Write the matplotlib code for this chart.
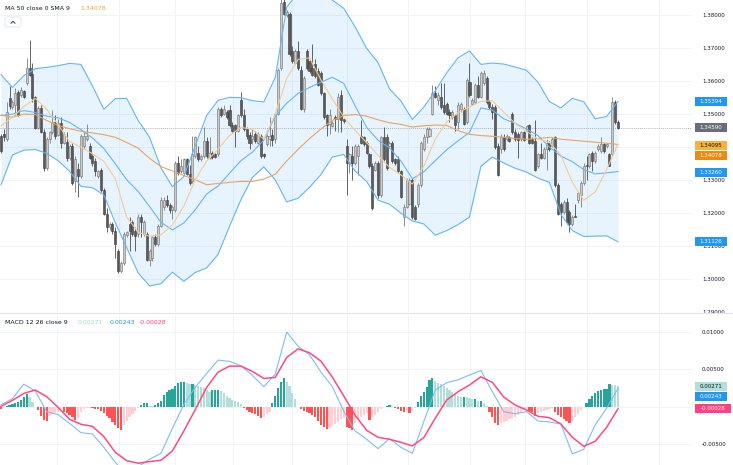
import numpy as np
import matplotlib
matplotlib.use("Agg")
import matplotlib.pyplot as plt
from matplotlib.patches import Rectangle, FancyBboxPatch
from matplotlib.lines import Line2D

# ---------------- data ----------------
opens = [
 1.3435, 1.3440, 1.3424, 1.3548, 1.3522, 1.3527, 1.3568, 1.3558, 1.3571, 1.3594,
 1.3640, 1.3622, 1.3553, 1.3457, 1.3519, 1.3445, 1.3337, 1.3424, 1.3445, 1.3476,
 1.3437, 1.3474, 1.3414, 1.3416, 1.3368, 1.3402, 1.3296, 1.3334, 1.3311, 1.3404,
 1.3424, 1.3404, 1.3373, 1.3358, 1.3311, 1.3332, 1.3270, 1.3198, 1.3157, 1.3167,
 1.3147, 1.3085, 1.3023, 1.3049, 1.3134, 1.3167, 1.3172, 1.3147, 1.3136, 1.3188,
 1.3136, 1.3136, 1.3059, 1.3064, 1.3126, 1.3106, 1.3162, 1.3219, 1.3239, 1.3224,
 1.3208, 1.3208, 1.3352, 1.3327, 1.3322, 1.3363, 1.3320, 1.3296, 1.3373, 1.3383,
 1.3363, 1.3373, 1.3419, 1.3368, 1.3381, 1.3378, 1.3378, 1.3517, 1.3502, 1.3507,
 1.3512, 1.3468, 1.3466, 1.3450, 1.3543, 1.3496, 1.3455, 1.3437, 1.3424, 1.3440,
 1.3414, 1.3435, 1.3378, 1.3410, 1.3424, 1.3437, 1.3424, 1.3502, 1.3640, 1.3841,
 1.3800, 1.3805, 1.3692, 1.3656, 1.3692, 1.3635, 1.3517, 1.3692, 1.3661, 1.3640,
 1.3651, 1.3630, 1.3625, 1.3563, 1.3496, 1.3471, 1.3464, 1.3491, 1.3486, 1.3558,
 1.3484, 1.3404, 1.3352, 1.3373, 1.3352, 1.3373, 1.3435, 1.3430, 1.3414, 1.3378,
 1.3342, 1.3332, 1.3352, 1.3255, 1.3430, 1.3430, 1.3404, 1.3414, 1.3363, 1.3363,
 1.3327, 1.3188, 1.3219, 1.3229, 1.3301, 1.3219, 1.3229, 1.3286, 1.3394, 1.3430,
 1.3435, 1.3502, 1.3563, 1.3543, 1.3553, 1.3527, 1.3532, 1.3507, 1.3491, 1.3496,
 1.3476, 1.3517, 1.3517, 1.3476, 1.3599, 1.3532, 1.3538, 1.3589, 1.3553, 1.3594,
 1.3610, 1.3538, 1.3522, 1.3522, 1.3404, 1.3394, 1.3430, 1.3424, 1.3430, 1.3502,
 1.3445, 1.3440, 1.3424, 1.3445, 1.3450, 1.3466, 1.3424, 1.3419, 1.3342, 1.3378,
 1.3368, 1.3394, 1.3414, 1.3404, 1.3430, 1.3286, 1.3229, 1.3203, 1.3234, 1.3203,
 1.3167, 1.3192, 1.3239, 1.3255, 1.3291, 1.3347, 1.3342, 1.3383, 1.3358, 1.3394,
 1.3388, 1.3409, 1.3402, 1.3378, 1.3378, 1.3538, 1.3476]
highs = [
 1.3440, 1.3455, 1.3538, 1.3584, 1.3543, 1.3579, 1.3574, 1.3581, 1.3574, 1.3671,
 1.3725, 1.3656, 1.3555, 1.3525, 1.3527, 1.3455, 1.3430, 1.3450, 1.3512, 1.3496,
 1.3486, 1.3491, 1.3445, 1.3445, 1.3410, 1.3414, 1.3373, 1.3352, 1.3440, 1.3450,
 1.3471, 1.3414, 1.3378, 1.3368, 1.3332, 1.3337, 1.3275, 1.3214, 1.3172, 1.3172,
 1.3157, 1.3090, 1.3054, 1.3142, 1.3147, 1.3188, 1.3178, 1.3157, 1.3198, 1.3198,
 1.3178, 1.3142, 1.3090, 1.3131, 1.3136, 1.3167, 1.3250, 1.3250, 1.3255, 1.3230,
 1.3224, 1.3358, 1.3373, 1.3363, 1.3368, 1.3368, 1.3347, 1.3435, 1.3435, 1.3404,
 1.3380, 1.3460, 1.3430, 1.3430, 1.3388, 1.3383, 1.3522, 1.3522, 1.3527, 1.3512,
 1.3527, 1.3476, 1.3471, 1.3502, 1.3568, 1.3517, 1.3460, 1.3445, 1.3455, 1.3450,
 1.3445, 1.3440, 1.3383, 1.3440, 1.3491, 1.3455, 1.3507, 1.3640, 1.3857, 1.3860,
 1.3815, 1.3810, 1.3707, 1.3697, 1.3723, 1.3646, 1.3615, 1.3697, 1.3666, 1.3713,
 1.3666, 1.3640, 1.3630, 1.3568, 1.3502, 1.3517, 1.3478, 1.3496, 1.3563, 1.3574,
 1.3486, 1.3424, 1.3383, 1.3404, 1.3409, 1.3409, 1.3481, 1.3435, 1.3419, 1.3383,
 1.3352, 1.3358, 1.3358, 1.3435, 1.3460, 1.3440, 1.3419, 1.3419, 1.3368, 1.3373,
 1.3332, 1.3229, 1.3306, 1.3306, 1.3306, 1.3224, 1.3291, 1.3419, 1.3440, 1.3460,
 1.3460, 1.3589, 1.3584, 1.3568, 1.3594, 1.3594, 1.3538, 1.3517, 1.3512, 1.3502,
 1.3538, 1.3538, 1.3522, 1.3610, 1.3656, 1.3548, 1.3594, 1.3615, 1.3630, 1.3635,
 1.3615, 1.3543, 1.3532, 1.3527, 1.3414, 1.3440, 1.3440, 1.3440, 1.3435, 1.3507,
 1.3455, 1.3445, 1.3450, 1.3450, 1.3466, 1.3471, 1.3430, 1.3481, 1.3383, 1.3414,
 1.3399, 1.3424, 1.3419, 1.3430, 1.3435, 1.3291, 1.3234, 1.3239, 1.3245, 1.3208,
 1.3193, 1.3229, 1.3265, 1.3296, 1.3352, 1.3373, 1.3383, 1.3388, 1.3388, 1.3409,
 1.3430, 1.3414, 1.3414, 1.3383, 1.3553, 1.3543, 1.3481]
lows = [
 1.3383, 1.3419, 1.3419, 1.3517, 1.3517, 1.3496, 1.3494, 1.3553, 1.3548, 1.3589,
 1.3615, 1.3538, 1.3455, 1.3455, 1.3443, 1.3327, 1.3332, 1.3414, 1.3440, 1.3424,
 1.3433, 1.3396, 1.3409, 1.3358, 1.3360, 1.3286, 1.3265, 1.3250, 1.3306, 1.3394,
 1.3419, 1.3363, 1.3342, 1.3311, 1.3306, 1.3265, 1.3193, 1.3142, 1.3150, 1.3136,
 1.3064, 1.3018, 1.3018, 1.3044, 1.3126, 1.3085, 1.3131, 1.3085, 1.3126, 1.3126,
 1.3131, 1.3054, 1.3039, 1.3054, 1.3100, 1.3100, 1.3159, 1.3208, 1.3219, 1.3200,
 1.3183, 1.3203, 1.3316, 1.3322, 1.3316, 1.3315, 1.3286, 1.3291, 1.3368, 1.3358,
 1.3358, 1.3368, 1.3368, 1.3363, 1.3365, 1.3367, 1.3373, 1.3491, 1.3496, 1.3486,
 1.3460, 1.3445, 1.3399, 1.3445, 1.3491, 1.3450, 1.3424, 1.3394, 1.3409, 1.3414,
 1.3409, 1.3368, 1.3368, 1.3404, 1.3404, 1.3404, 1.3414, 1.3496, 1.3635, 1.3800,
 1.3795, 1.3677, 1.3656, 1.3651, 1.3635, 1.3512, 1.3507, 1.3635, 1.3625, 1.3615,
 1.3610, 1.3584, 1.3558, 1.3486, 1.3435, 1.3440, 1.3460, 1.3450, 1.3445, 1.3445,
 1.3474, 1.3255, 1.3322, 1.3301, 1.3347, 1.3316, 1.3409, 1.3404, 1.3378, 1.3337,
 1.3209, 1.3327, 1.3245, 1.3250, 1.3358, 1.3332, 1.3399, 1.3352, 1.3347, 1.3322,
 1.3245, 1.3162, 1.3214, 1.3224, 1.3183, 1.3180, 1.3219, 1.3280, 1.3388, 1.3414,
 1.3430, 1.3496, 1.3548, 1.3527, 1.3517, 1.3502, 1.3496, 1.3476, 1.3486, 1.3450,
 1.3455, 1.3507, 1.3466, 1.3471, 1.3553, 1.3527, 1.3532, 1.3548, 1.3548, 1.3589,
 1.3532, 1.3517, 1.3486, 1.3394, 1.3311, 1.3383, 1.3388, 1.3419, 1.3416, 1.3440,
 1.3419, 1.3368, 1.3419, 1.3419, 1.3445, 1.3409, 1.3409, 1.3327, 1.3337, 1.3363,
 1.3363, 1.3332, 1.3388, 1.3399, 1.3280, 1.3193, 1.3162, 1.3198, 1.3167, 1.3142,
 1.3162, 1.3188, 1.3230, 1.3219, 1.3286, 1.3301, 1.3337, 1.3327, 1.3352, 1.3388,
 1.3383, 1.3383, 1.3398, 1.3342, 1.3373, 1.3471, 1.3455]
closes = [
 1.3388, 1.3430, 1.3507, 1.3525, 1.3538, 1.3563, 1.3496, 1.3574, 1.3553, 1.3640,
 1.3620, 1.3548, 1.3457, 1.3519, 1.3445, 1.3337, 1.3424, 1.3445, 1.3476, 1.3435,
 1.3474, 1.3414, 1.3440, 1.3368, 1.3402, 1.3291, 1.3363, 1.3313, 1.3435, 1.3435,
 1.3435, 1.3368, 1.3352, 1.3327, 1.3327, 1.3270, 1.3198, 1.3157, 1.3167, 1.3147,
 1.3106, 1.3023, 1.3049, 1.3136, 1.3142, 1.3147, 1.3136, 1.3131, 1.3188, 1.3172,
 1.3172, 1.3059, 1.3085, 1.3126, 1.3106, 1.3162, 1.3239, 1.3239, 1.3224, 1.3208,
 1.3217, 1.3352, 1.3322, 1.3342, 1.3363, 1.3320, 1.3291, 1.3378, 1.3430, 1.3363,
 1.3373, 1.3419, 1.3373, 1.3383, 1.3371, 1.3371, 1.3517, 1.3496, 1.3517, 1.3491,
 1.3466, 1.3450, 1.3450, 1.3496, 1.3496, 1.3455, 1.3435, 1.3414, 1.3435, 1.3419,
 1.3440, 1.3373, 1.3373, 1.3435, 1.3435, 1.3422, 1.3502, 1.3635, 1.3836, 1.3805,
 1.3810, 1.3682, 1.3661, 1.3692, 1.3640, 1.3517, 1.3610, 1.3640, 1.3630, 1.3620,
 1.3615, 1.3589, 1.3563, 1.3491, 1.3466, 1.3496, 1.3474, 1.3486, 1.3553, 1.3481,
 1.3478, 1.3352, 1.3378, 1.3352, 1.3404, 1.3404, 1.3414, 1.3409, 1.3383, 1.3342,
 1.3214, 1.3352, 1.3255, 1.3430, 1.3363, 1.3337, 1.3414, 1.3358, 1.3352, 1.3327,
 1.3250, 1.3219, 1.3301, 1.3301, 1.3188, 1.3183, 1.3286, 1.3414, 1.3430, 1.3455,
 1.3455, 1.3563, 1.3553, 1.3558, 1.3522, 1.3507, 1.3502, 1.3496, 1.3507, 1.3466,
 1.3527, 1.3532, 1.3471, 1.3604, 1.3558, 1.3543, 1.3589, 1.3553, 1.3625, 1.3625,
 1.3538, 1.3522, 1.3507, 1.3399, 1.3316, 1.3430, 1.3394, 1.3435, 1.3419, 1.3445,
 1.3424, 1.3422, 1.3445, 1.3422, 1.3463, 1.3414, 1.3414, 1.3332, 1.3378, 1.3368,
 1.3394, 1.3414, 1.3394, 1.3424, 1.3286, 1.3198, 1.3203, 1.3234, 1.3172, 1.3167,
 1.3188, 1.3189, 1.3260, 1.3291, 1.3342, 1.3343, 1.3378, 1.3358, 1.3383, 1.3404,
 1.3409, 1.3388, 1.3409, 1.3342, 1.3538, 1.3476, 1.3459]

# overlay indicators, read every 4th bar
line_idx = list(range(0, 217, 4))
bb_upper = [1.3620, 1.3581, 1.3617, 1.3638, 1.3642, 1.3647, 1.3654, 1.3651, 1.3586, 1.3515,
            1.3547, 1.3548, 1.3481, 1.3430, 1.3337, 1.3280, 1.3311, 1.3404, 1.3496, 1.3542,
            1.3551, 1.3550, 1.3541, 1.3537, 1.3611, 1.3824, 1.3869, 1.3893, 1.3877, 1.3846,
            1.3821, 1.3764, 1.3700, 1.3656, 1.3577, 1.3540, 1.3484, 1.3521, 1.3571, 1.3625,
            1.3671, 1.3692, 1.3651, 1.3655, 1.3652, 1.3643, 1.3633, 1.3597, 1.3538, 1.3519,
            1.3548, 1.3538, 1.3486, 1.3493, 1.3539]
bb_mid = [1.3496, 1.3500, 1.3511, 1.3505, 1.3494, 1.3489, 1.3475, 1.3453, 1.3428, 1.3396,
          1.3350, 1.3301, 1.3266, 1.3220, 1.3172, 1.3149, 1.3170, 1.3210, 1.3258, 1.3282,
          1.3321, 1.3359, 1.3385, 1.3421, 1.3494, 1.3533, 1.3563, 1.3581, 1.3597, 1.3612,
          1.3593, 1.3525, 1.3460, 1.3421, 1.3398, 1.3358, 1.3304, 1.3325, 1.3359, 1.3392,
          1.3419, 1.3445, 1.3519, 1.3512, 1.3486, 1.3472, 1.3455, 1.3435, 1.3400, 1.3373,
          1.3356, 1.3332, 1.3319, 1.3322, 1.3326]
bb_lower = [1.3286, 1.3376, 1.3391, 1.3393, 1.3381, 1.3359, 1.3327, 1.3281, 1.3277, 1.3255,
            1.3171, 1.3095, 1.3019, 1.2979, 1.2986, 1.3021, 1.2993, 1.3020, 1.3034, 1.3075,
            1.3160, 1.3241, 1.3308, 1.3340, 1.3301, 1.3234, 1.3245, 1.3278, 1.3317, 1.3370,
            1.3378, 1.3327, 1.3296, 1.3239, 1.3227, 1.3200, 1.3176, 1.3167, 1.3133, 1.3147,
            1.3165, 1.3188, 1.3342, 1.3370, 1.3352, 1.3336, 1.3324, 1.3306, 1.3293, 1.3196,
            1.3147, 1.3129, 1.3130, 1.3131, 1.3113]
ma50 = [1.3497, 1.3491, 1.3500, 1.3499, 1.3481, 1.3466, 1.3456, 1.3448, 1.3443, 1.3438,
        1.3430, 1.3414, 1.3397, 1.3366, 1.3341, 1.3328, 1.3314, 1.3301, 1.3286, 1.3290,
        1.3293, 1.3296, 1.3296, 1.3303, 1.3318, 1.3358, 1.3393, 1.3426, 1.3455, 1.3481,
        1.3496, 1.3499, 1.3494, 1.3483, 1.3474, 1.3469, 1.3461, 1.3465, 1.3467, 1.3466,
        1.3450, 1.3439, 1.3435, 1.3433, 1.3430, 1.3426, 1.3424, 1.3426, 1.3430, 1.3424,
        1.3421, 1.3418, 1.3415, 1.3412, 1.3408]
ma_fast = [1.3464, 1.3491, 1.3523, 1.3548, 1.3515, 1.3468, 1.3417, 1.3400, 1.3380, 1.3357,
           1.3304, 1.3188, 1.3142, 1.3130, 1.3134, 1.3164, 1.3221, 1.3301, 1.3358, 1.3394,
           1.3435, 1.3460, 1.3454, 1.3424, 1.3500, 1.3608, 1.3666, 1.3671, 1.3604, 1.3546,
           1.3491, 1.3450, 1.3414, 1.3375, 1.3339, 1.3316, 1.3288, 1.3342, 1.3424, 1.3476,
           1.3504, 1.3522, 1.3539, 1.3541, 1.3506, 1.3472, 1.3448, 1.3425, 1.3414, 1.3376,
           1.3293, 1.3239, 1.3264, 1.3332, 1.3410]

# MACD lines, read every 4th bar
macd_idx = list(range(0, 217, 4))
macd_line = [0.00027, 0.00107, 0.00303, 0.00210, -0.00067, -0.00107, -0.00223, -0.00348, -0.00366, -0.00544,
             -0.00745, -0.00915, -0.00803, -0.00705, -0.00625, -0.00290, 0.00031, 0.00259, 0.00446, 0.00625,
             0.00607, 0.00549, 0.00420, 0.00268, 0.00437, 0.01000, 0.00812, 0.00696, 0.00464, 0.00268,
             -0.00062, -0.00326, -0.00437, -0.00562, -0.00428, -0.00544, -0.00625, -0.00201, 0.00223, 0.00321,
             0.00361, 0.00424, 0.00486, 0.00201, -0.00067, -0.00094, -0.00067, -0.00192, -0.00205, -0.00232,
             -0.00633, -0.00571, -0.00245, -0.00022, 0.00243]
signal_line = [0.00004, 0.00085, 0.00178, 0.00223, 0.00134, -0.00009, -0.00169, -0.00236, -0.00263, -0.00401,
               -0.00611, -0.00723, -0.00758, -0.00736, -0.00718, -0.00593, -0.00326, -0.00040, 0.00259, 0.00464,
               0.00544, 0.00544, 0.00473, 0.00379, 0.00392, 0.00660, 0.00776, 0.00723, 0.00611, 0.00397,
               0.00143, -0.00116, -0.00317, -0.00410, -0.00437, -0.00477, -0.00526, -0.00415, -0.00156, 0.00089,
               0.00201, 0.00290, 0.00401, 0.00326, 0.00129, 0.00022, -0.00045, -0.00129, -0.00147, -0.00232,
               -0.00410, -0.00531, -0.00464, -0.00277, -0.00028]
# histogram, in units of 1e-5
hist_1e5 = [-31, -9, 13, 27, 36, 54, 67, 89, 125, 169,
            125, 62, 0, -45, -125, -178, -187, -125, -98, -89,
            -67, -45, -67, -89, -112, -134, -178, -156, -67, -36,
            -22, -13, -22, -31, -36, -58, -89, -125, -156, -201,
            -245, -290, -312, -245, -187, -143, -98, -54, -13, 22,
            45, 45, 13, 4, 22, 45, 80, 156, 201, 223,
            232, 277, 321, 335, 335, 312, 303, 303, 285, 277,
            268, 245, 223, 201, 223, 223, 223, 214, 178, 143,
            112, 89, 80, 58, 31, -22, -45, -67, -80, -98,
            -125, -156, -134, -98, -67, 45, 143, 245, 335, 379,
            335, 277, 178, 98, -9, -36, -54, -67, -89, -116,
            -134, -187, -245, -277, -303, -290, -259, -232, -201, -169,
            -156, -268, -290, -312, -223, -169, -134, -112, -89, -178,
            -143, -112, -67, -36, -9, 13, 22, 13, -13, -36,
            -54, -67, -45, -89, -45, -22, 67, 143, 201, 259,
            357, 379, 348, 321, 303, 277, 245, 223, 201, 169,
            143, 125, 134, 125, 112, 98, 107, 80, 80, 54,
            9, -67, -134, -214, -245, -223, -205, -187, -169, -152,
            -134, -112, -80, -45, -36, -54, -67, -125, -89, -67,
            -54, -40, -27, -22, -67, -112, -134, -161, -187, -223,
            -187, -143, -98, -45, -9, 45, 98, 143, 187, 214,
            223, 232, 236, 303, 294, 285, 271]

month_lines = [19.6, 41.3, 61.0, 81.2, 101.9, 121.1, 142.4, 164.2, 183.4, 205.1, 230.3]
price_ticks = [1.29, 1.30, 1.31, 1.32, 1.33, 1.34, 1.35, 1.36, 1.37, 1.38]
price_hidden = [1.34]          # label covered by the price badges
macd_ticks = [0.01, 0.005, 0.0, -0.005]
macd_hidden = [0.0]

ma50_last = 1.34078
fast_last = 1.34095
upper_last, mid_last, lower_last = 1.35394, 1.33260, 1.31126
hist_last, macd_last, signal_last = 0.00271, 0.00243, -0.00028

# ---------------- figure ----------------
W, H = 733, 465
plt.rcParams['font.family'] = ['DejaVu Sans']
fig = plt.figure(figsize=(W / 100, H / 100), dpi=100)
fig.patch.set_facecolor('white')

ax = fig.add_axes([0, 153 / H, 692 / W, 312 / H])
ax2 = fig.add_axes([0, 0, 692 / W, 151 / H])
GRID = '#F0F3FA'
TXT = '#131722'
for a in (ax, ax2):
    a.set_facecolor('white')
    for s in a.spines.values():
        s.set_visible(False)
    a.set_xlim(-0.35, 241.9)
    a.tick_params(axis='x', length=0, labelbottom=False)
    a.yaxis.tick_right()
    a.tick_params(axis='y', length=0, pad=7.2, labelsize=4, labelcolor=TXT)
    for m in month_lines:
        a.axvline(m, color=GRID, lw=0.7, zorder=0)

# main pane
ax.set_ylim(1.29083, 1.38463)
ax.set_yticks(price_ticks)
ax.set_yticklabels(['' if v in price_hidden else f'{v:.5f}' for v in price_ticks])
for v in price_ticks:
    ax.axhline(v, color=GRID, lw=0.7, zorder=0)

ax.fill_between(line_idx, bb_lower, bb_upper, color='#2196F3', alpha=0.1, lw=0, zorder=1)

for i in range(len(closes)):
    o, h, l, c = opens[i], highs[i], lows[i], closes[i]
    up = c >= o
    fc = '#cbcbcb' if up else '#5a5a5a'
    ec = '#6f6f6f' if up else '#3a3a3a'
    ax.vlines(i, l, h, color=ec, lw=0.55, zorder=3)
    ax.add_patch(Rectangle((i - 0.36, min(o, c)), 0.72, max(abs(c - o), 0.00008),
                           fc=fc, ec=ec, lw=0.4, zorder=4))

for arr in (bb_upper, bb_mid, bb_lower):
    ax.plot(line_idx, arr, color='#64B5F6', lw=0.8, zorder=5)
ax.plot(line_idx, ma50, color='#E9A45F', lw=0.8, zorder=5)
ax.plot(line_idx, ma_fast, color='#F5CB92', lw=0.8, zorder=5)
ax.axhline(closes[-1], color='#9598A1', lw=0.6, ls=(0, (1, 1.5)), zorder=2)

# MACD pane
ax2.set_ylim(-0.007815, 0.012426)
ax2.set_yticks(macd_ticks)
ax2.set_yticklabels(['' if v in macd_hidden else f'{v:.5f}' for v in macd_ticks])
for v in macd_ticks:
    ax2.axhline(v, color=GRID, lw=0.7, zorder=0)
hist = np.array(hist_1e5) / 1e5
cols = []
for i, v in enumerate(hist):
    prev = hist[i - 1] if i > 0 else v
    if v >= 0:
        cols.append('#26A69A' if v >= prev else '#B2DFDB')
    else:
        cols.append('#FFCDD2' if v > prev else '#FF5252')
ax2.bar(np.arange(len(hist)), hist, width=0.78, color=cols, lw=0, zorder=2)
ax2.plot(macd_idx, macd_line, color='#7CBDF4', lw=0.8, zorder=3)
ax2.plot(macd_idx, signal_line, color='#FF4A80', lw=1.1, zorder=4)

# pane separator
fig.add_artist(Line2D([0, 1], [1 - 313 / H] * 2, transform=fig.transFigure, color='#E0E3EB', lw=0.8))

# legends
def ftxt(x, y, s, color=TXT, size=4.5, **kw):
    fig.text(x / W, 1 - y / H, s, fontsize=size, color=color, va='center', ha='left', **kw)

ftxt(5, 8, 'MA 50 close 0 SMA 9')
ftxt(80, 8, f'{ma50_last:.5f}', color='#F0A040')
fig.add_artist(FancyBboxPatch((5 / W, 1 - 27 / H), 16 / W, 10 / H,
                              boxstyle='round,pad=0,rounding_size=0.003',
                              transform=fig.transFigure, fc='white', ec='#E0E3EB', lw=0.6))
fig.add_artist(Line2D([11 / W, 13 / W, 15 / W], [1 - 23.3 / H, 1 - 21.3 / H, 1 - 23.3 / H],
                      transform=fig.transFigure, color=TXT, lw=0.6))

ftxt(5, 323, 'MACD 12 26 close 9')
ftxt(78, 323, f'{hist_last:.5f}', color='#A3D9D1')
ftxt(110, 323, f'{macd_last:.5f}', color='#2196F3')
ftxt(139, 323, f'{signal_last:.5f}', color='#FF4081')

# price-scale badges
fig.canvas.draw()

def badge(a, value, fc, tc, dy=0.0, width=32):
    yd = a.transData.transform((0, value))[1] - dy
    fig.add_artist(Rectangle((695 / W, (yd - 4.5) / H), width / W, 9 / H,
                             transform=fig.transFigure, fc=fc, ec='none', zorder=10))
    fig.text((695 + width / 2) / W, yd / H, f'{value:.5f}', fontsize=4, color=tc,
             ha='center', va='center', zorder=11)

badge(ax, upper_last, '#2196F3', 'white')
badge(ax, closes[-1], '#6A6D78', 'white')
badge(ax, fast_last, '#F7B23B', TXT, dy=1.0)
badge(ax, ma50_last, '#EE8A12', 'white', dy=10.5)
badge(ax, mid_last, '#2196F3', 'white', dy=1.0)
badge(ax, lower_last, '#2196F3', 'white')
badge(ax2, hist_last, '#B2DFDB', TXT)
badge(ax2, macd_last, '#2196F3', 'white', dy=7.5)
badge(ax2, signal_last, '#FF4081', 'white', width=36)

fig.savefig('out.png', dpi=100, facecolor='white')
